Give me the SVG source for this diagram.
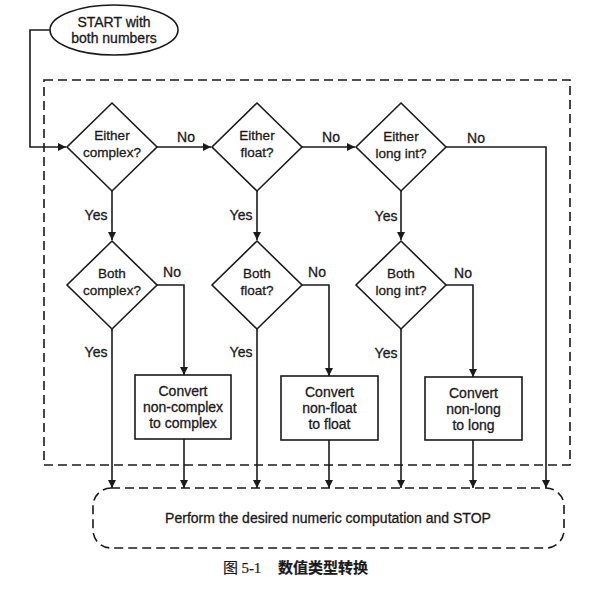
<svg xmlns="http://www.w3.org/2000/svg" width="608" height="593" viewBox="0 0 608 593">
<defs>
<marker id="arr" viewBox="0 0 10 10" refX="10" refY="5" markerWidth="8" markerHeight="8" markerUnits="userSpaceOnUse" orient="auto">
<path d="M0,0 L10,5 L0,10 z" fill="#1a1a1a"/>
</marker>
<style>
.ln{fill:none;stroke:#1a1a1a;stroke-width:1.6}
.sh{fill:#fff;stroke:#1a1a1a;stroke-width:1.6}
.dash{fill:none;stroke:#1a1a1a;stroke-width:1.6;stroke-dasharray:9 5}
text{font-family:"Liberation Sans",Arial,sans-serif;font-size:14px;fill:#1a1a1a;stroke:#1a1a1a;stroke-width:0.3;text-anchor:middle}
.lb{font-size:13.5px}
.cap{font-family:"Noto Sans CJK SC",sans-serif;font-size:15px;text-anchor:start;stroke-width:0.2}
</style>
</defs>
<rect width="608" height="593" fill="#fff"/>
<rect id="loop-region" class="dash" x="44" y="80" width="526" height="385"/>
<g id="connectors">
<path class="ln" d="M50,30 H30 V147 H66" marker-end="url(#arr)"/>
<path class="ln" d="M157,147 H211" marker-end="url(#arr)"/>
<path class="ln" d="M302,147 H355" marker-end="url(#arr)"/>
<path class="ln" d="M446,147 H546 V488" marker-end="url(#arr)"/>
<path class="ln" d="M112,191 V240" marker-end="url(#arr)"/>
<path class="ln" d="M257,191 V240" marker-end="url(#arr)"/>
<path class="ln" d="M401,191 V240" marker-end="url(#arr)"/>
<path class="ln" d="M157,285 H184 V375" marker-end="url(#arr)"/>
<path class="ln" d="M302,285 H329 V376" marker-end="url(#arr)"/>
<path class="ln" d="M446,285 H473 V377" marker-end="url(#arr)"/>
<path class="ln" d="M112,329 V488" marker-end="url(#arr)"/>
<path class="ln" d="M257,329 V488" marker-end="url(#arr)"/>
<path class="ln" d="M401,329 V488" marker-end="url(#arr)"/>
<path class="ln" d="M184,439 V488" marker-end="url(#arr)"/>
<path class="ln" d="M329,440 V488" marker-end="url(#arr)"/>
<path class="ln" d="M473,440 V488" marker-end="url(#arr)"/>
<text x="186" y="142">No</text>
<text x="331" y="142">No</text>
<text x="476" y="143">No</text>
<text x="96" y="220">Yes</text>
<text x="241" y="220">Yes</text>
<text x="386" y="221">Yes</text>
<text x="172" y="277">No</text>
<text x="317" y="277">No</text>
<text x="463" y="278">No</text>
<text x="96" y="357">Yes</text>
<text x="241" y="357">Yes</text>
<text x="386" y="358">Yes</text>
</g>
<g id="start">
<ellipse class="sh" cx="114" cy="30" rx="64" ry="25"/>
<text x="114" y="27">START with</text>
<text x="114" y="43">both numbers</text>
</g>
<g id="either-complex">
<polygon class="sh" points="112,103 157,147 112,191 67,147"/>
<text class="lb" x="112" y="140">Either</text>
<text class="lb" x="112" y="157">complex?</text>
</g>
<g id="either-float">
<polygon class="sh" points="257,103 302,147 257,191 212,147"/>
<text class="lb" x="257" y="140">Either</text>
<text class="lb" x="257" y="157">float?</text>
</g>
<g id="either-long">
<polygon class="sh" points="401,103 446,147 401,191 356,147"/>
<text class="lb" x="401" y="141">Either</text>
<text class="lb" x="401" y="158">long int?</text>
</g>
<g id="both-complex">
<polygon class="sh" points="112,241 157,285 112,329 67,285"/>
<text class="lb" x="112" y="278">Both</text>
<text class="lb" x="112" y="295">complex?</text>
</g>
<g id="both-float">
<polygon class="sh" points="257,241 302,285 257,329 212,285"/>
<text class="lb" x="257" y="278">Both</text>
<text class="lb" x="257" y="295">float?</text>
</g>
<g id="both-long">
<polygon class="sh" points="401,241 446,285 401,329 356,285"/>
<text class="lb" x="401" y="278">Both</text>
<text class="lb" x="401" y="295">long int?</text>
</g>
<g id="convert-complex">
<rect class="sh" x="135" y="375" width="96" height="64"/>
<text x="183" y="396">Convert</text>
<text x="183" y="412">non-complex</text>
<text x="183" y="428">to complex</text>
</g>
<g id="convert-float">
<rect class="sh" x="281" y="376" width="97" height="64"/>
<text x="329.5" y="397">Convert</text>
<text x="329.5" y="413">non-float</text>
<text x="329.5" y="429">to float</text>
</g>
<g id="convert-long">
<rect class="sh" x="425" y="377" width="97" height="63"/>
<text x="473.5" y="398">Convert</text>
<text x="473.5" y="414">non-long</text>
<text x="473.5" y="430">to long</text>
</g>
<g id="stop">
<rect class="dash" x="93" y="488" width="471" height="60" rx="18" ry="18"/>
<text x="328" y="523">Perform the desired numeric computation and STOP</text>
</g>
<text class="cap" x="223" y="573">图 <tspan font-family="Liberation Serif,serif">5-1</tspan><tspan x="278" font-weight="bold">数值类型转换</tspan></text>
</svg>
